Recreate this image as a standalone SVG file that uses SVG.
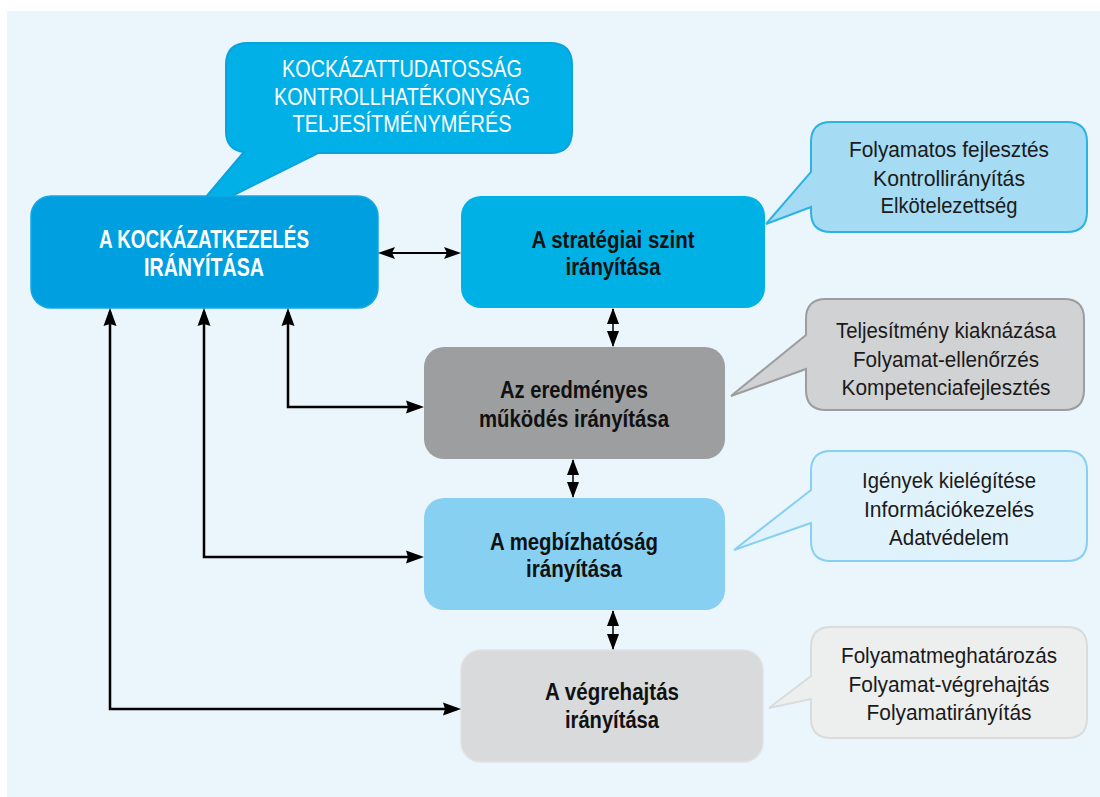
<svg xmlns="http://www.w3.org/2000/svg" width="1100" height="797" viewBox="0 0 1100 797">
<style>
text{font-family:"Liberation Sans",Arial,sans-serif;text-anchor:middle}
.wb{font-size:25px;font-weight:bold;fill:#fff}
.bb{font-size:23px;font-weight:bold;fill:#111}
.w{font-size:24px;fill:#fff}
.k{font-size:22px;fill:#1a1a1a}
.ln{fill:none;stroke:#000;stroke-width:2.5}
.ln2{fill:none;stroke:#000;stroke-width:2}
.ln3{fill:none;stroke:#000;stroke-width:1.5}
</style>
<defs>
<marker id="big" markerUnits="userSpaceOnUse" markerWidth="18" markerHeight="13" refX="14" refY="6.5" orient="auto-start-reverse" overflow="visible">
<path d="M0,0 L18,6.5 L0,13 L2,6.5 z" fill="#000"/>
</marker>
<marker id="mid" markerUnits="userSpaceOnUse" markerWidth="17" markerHeight="12" refX="14" refY="6" orient="auto-start-reverse" overflow="visible">
<path d="M0,0 L17,6 L0,12 L3,6 z" fill="#000"/>
</marker>
<marker id="sm" markerUnits="userSpaceOnUse" markerWidth="16" markerHeight="12" refX="15" refY="6" orient="auto-start-reverse" overflow="visible">
<path d="M0,0 L16,6 L0,12 z" fill="#000"/>
</marker>
</defs>
<rect x="7" y="11" width="1093" height="786" fill="#EAF5FC"/>

<g id="callout-top">
<path d="M248,43 H550 Q572,43 572,65 V131 Q572,153 550,153 H318 L228,198 L205,198 L244,152 Q226,150 226,131 V65 Q226,43 248,43 Z" fill="#00B0E6" stroke="#0AA2DC" stroke-width="2"/>
<text class="w" x="402" y="77" textLength="240" lengthAdjust="spacingAndGlyphs">KOCKÁZATTUDATOSSÁG</text>
<text class="w" x="402" y="105" textLength="256" lengthAdjust="spacingAndGlyphs">KONTROLLHATÉKONYSÁG</text>
<text class="w" x="402" y="132" textLength="219" lengthAdjust="spacingAndGlyphs">TELJESÍTMÉNYMÉRÉS</text>
</g>

<g id="node-kockazatkezeles">
<rect x="31" y="196" width="347" height="112" rx="20" fill="#009FDF" stroke="#12A8E3" stroke-width="1.5"/>
<text class="wb" x="204" y="248" textLength="210" lengthAdjust="spacingAndGlyphs">A KOCKÁZATKEZELÉS</text>
<text class="wb" x="204" y="276" textLength="120" lengthAdjust="spacingAndGlyphs">IRÁNYÍTÁSA</text>
</g>

<g id="node-strategiai">
<rect x="461" y="196" width="304" height="112" rx="20" fill="#00B1E6"/>
<text class="bb" x="613" y="248" textLength="163" lengthAdjust="spacingAndGlyphs">A stratégiai szint</text>
<text class="bb" x="613" y="275" textLength="95" lengthAdjust="spacingAndGlyphs">irányítása</text>
</g>

<g id="callout-strategiai">
<path d="M831,122 H1067 Q1087,122 1087,142 V212 Q1087,232 1067,232 H831 Q811,232 811,212 V207 L766,224 L811,172 V142 Q811,122 831,122 Z" fill="#A5DBF3" stroke="#2BB3E6" stroke-width="2"/>
<text class="k" x="949" y="157" textLength="200" lengthAdjust="spacingAndGlyphs">Folyamatos fejlesztés</text>
<text class="k" x="949" y="186" textLength="152" lengthAdjust="spacingAndGlyphs">Kontrollirányítás</text>
<text class="k" x="949" y="213" textLength="137" lengthAdjust="spacingAndGlyphs">Elkötelezettség</text>
</g>

<g id="node-eredmenyes">
<rect x="424" y="347" width="301" height="112" rx="20" fill="#9D9E9F"/>
<text class="bb" x="574" y="398" textLength="148" lengthAdjust="spacingAndGlyphs">Az eredményes</text>
<text class="bb" x="574" y="427" textLength="190" lengthAdjust="spacingAndGlyphs">működés irányítása</text>
</g>

<g id="callout-eredmenyes">
<path d="M826,299 H1064 Q1084,299 1084,319 V390 Q1084,410 1064,410 H826 Q806,410 806,390 V369 L731,396 L806,335 V319 Q806,299 826,299 Z" fill="#D1D2D3" stroke="#9C9D9E" stroke-width="2"/>
<text class="k" x="946" y="338" textLength="220" lengthAdjust="spacingAndGlyphs">Teljesítmény kiaknázása</text>
<text class="k" x="946" y="367" textLength="186" lengthAdjust="spacingAndGlyphs">Folyamat-ellenőrzés</text>
<text class="k" x="946" y="395" textLength="209" lengthAdjust="spacingAndGlyphs">Kompetenciafejlesztés</text>
</g>

<g id="node-megbizhatosag">
<rect x="424" y="498" width="301" height="112" rx="20" fill="#87D0F1"/>
<text class="bb" x="574" y="550" textLength="168" lengthAdjust="spacingAndGlyphs">A megbízhatóság</text>
<text class="bb" x="574" y="577" textLength="96" lengthAdjust="spacingAndGlyphs">irányítása</text>
</g>

<g id="callout-megbizhatosag">
<path d="M831,451 H1067 Q1087,451 1087,471 V541 Q1087,561 1067,561 H831 Q811,561 811,541 V523 L734,550 L811,490 V471 Q811,451 831,451 Z" fill="#E0F2FB" stroke="#87D0F1" stroke-width="2"/>
<text class="k" x="949" y="488" textLength="174" lengthAdjust="spacingAndGlyphs">Igények kielégítése</text>
<text class="k" x="949" y="517" textLength="170" lengthAdjust="spacingAndGlyphs">Információkezelés</text>
<text class="k" x="949" y="545" textLength="120" lengthAdjust="spacingAndGlyphs">Adatvédelem</text>
</g>

<g id="node-vegrehajtas">
<rect x="461" y="650" width="302" height="112" rx="20" fill="#D9DADB" stroke="#E1E2E3" stroke-width="1.5"/>
<text class="bb" x="612" y="700" textLength="134" lengthAdjust="spacingAndGlyphs">A végrehajtás</text>
<text class="bb" x="612" y="728" textLength="94" lengthAdjust="spacingAndGlyphs">irányítása</text>
</g>

<g id="callout-vegrehajtas">
<path d="M831,627 H1067 Q1087,627 1087,647 V718 Q1087,738 1067,738 H831 Q811,738 811,718 V699 L769,708 L811,676 V647 Q811,627 831,627 Z" fill="#EDEEEE" stroke="#DADBDC" stroke-width="2"/>
<text class="k" x="949" y="663" textLength="216" lengthAdjust="spacingAndGlyphs">Folyamatmeghatározás</text>
<text class="k" x="949" y="692" textLength="201" lengthAdjust="spacingAndGlyphs">Folyamat-végrehajtás</text>
<text class="k" x="949" y="720" textLength="165" lengthAdjust="spacingAndGlyphs">Folyamatirányítás</text>
</g>

<g id="connectors">
<path class="ln2" d="M381,253 H458" marker-start="url(#mid)" marker-end="url(#mid)"/>
<path class="ln3" d="M613,309 V346" marker-start="url(#sm)" marker-end="url(#sm)"/>
<path class="ln3" d="M573,460 V497" marker-start="url(#sm)" marker-end="url(#sm)"/>
<path class="ln3" d="M613,611 V649" marker-start="url(#sm)" marker-end="url(#sm)"/>
<path class="ln" d="M288,312 V407 H420" marker-start="url(#big)" marker-end="url(#big)"/>
<path class="ln" d="M204,312 V557 H420" marker-start="url(#big)" marker-end="url(#big)"/>
<path class="ln" d="M110,312 V709 H457" marker-start="url(#big)" marker-end="url(#big)"/>
</g>
</svg>
